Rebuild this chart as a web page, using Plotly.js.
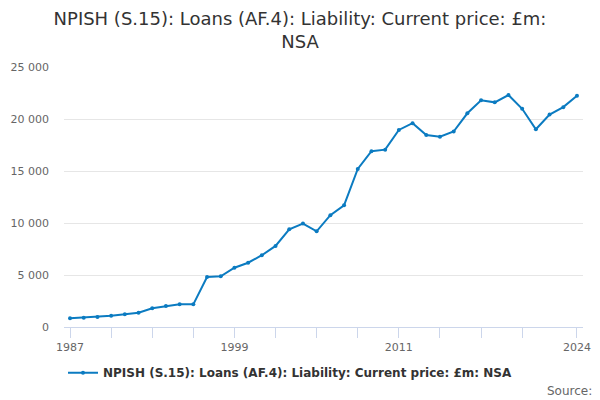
<!DOCTYPE html>
<html>
<head>
<meta charset="utf-8">
<script src="https://cdn.plot.ly/plotly-3.0.1.min.js"></script>
<style>html,body{margin:0;padding:0;background:#fff;}#chart{width:600px;height:400px;}</style>
</head>
<body>
<div id="chart"></div>
<script>
var years = [1987,1988,1989,1990,1991,1992,1993,1994,1995,1996,1997,1998,1999,2000,2001,2002,2003,2004,2005,2006,2007,2008,2009,2010,2011,2012,2013,2014,2015,2016,2017,2018,2019,2020,2021,2022,2023,2024];
var values = [840,900,960,1090,1220,1380,1800,2020,2180,2180,4810,4870,5700,6180,6900,7800,9400,9950,9200,10750,11700,15200,16900,17050,18950,19600,18460,18300,18800,20550,21800,21600,22300,20980,19010,20430,21140,22230];
var tickYears = [1987,1990,1993,1996,1999,2002,2005,2008,2011,2014,2017,2020,2024];
var tickLabels = ['1987','','','','1999','','','','2011','','','','2024'];
var seriesName = 'NPISH (S.15): Loans (AF.4): Liability: Current price: £m: NSA';
var titleText = 'NPISH (S.15): Loans (AF.4): Liability: Current price: £m:<br>NSA';

var font = '"DejaVu Sans", "Lucida Grande", sans-serif';
Plotly.newPlot('chart', [{
  x: years, y: values, name: seriesName, type: 'scatter', mode: 'lines+markers',
  line: {color: '#0b7bc1', width: 2}, marker: {color: '#0b7bc1', size: 4}
}], {
  width: 600, height: 400,
  separators: '. ',
  font: {family: font, color: '#333'},
  margin: {l: 64, r: 17, t: 67, b: 73, autoexpand: false},
  paper_bgcolor: '#fff', plot_bgcolor: '#fff',
  title: {text: titleText, x: 0.5, xanchor: 'center', xref: 'container', yref: 'container', y: 0.9375, yanchor: 'middle', font: {size: 18, color: '#333', family: font}},
  xaxis: {range: [1986.56, 2024.44], tickmode: 'array', tickvals: tickYears, ticktext: tickLabels,
    ticks: 'outside', ticklen: 10, tickcolor: '#ccd6eb', tickwidth: 1, showline: true, linecolor: '#ccd6eb', linewidth: 1,
    showgrid: false, zeroline: false, tickfont: {size: 11, color: '#666'}, fixedrange: true},
  yaxis: {range: [0, 25000], tickvals: [0,5000,10000,15000,20000,25000], tickformat: ',d', showgrid: true, gridcolor: '#e6e6e6',
    zeroline: false, showline: false, ticks: '', ticklabelstandoff: 14, tickfont: {size: 11, color: '#666'}, fixedrange: true},
  showlegend: true,
  legend: {orientation: 'h', xref: 'container', yref: 'container', x: 0.105, xanchor: 'left', y: 0.068, yanchor: 'middle', font: {size: 12, color: '#333', family: font, weight: 'bold'}},
  annotations: [{text: 'Source:', xref: 'paper', yref: 'paper', x: 1.0215, xanchor: 'right', y: -0.21, yanchor: 'top', showarrow: false, font: {size: 12, color: '#666'}}]
}, {displayModeBar: false, staticPlot: true});
</script>
</body>
</html>
